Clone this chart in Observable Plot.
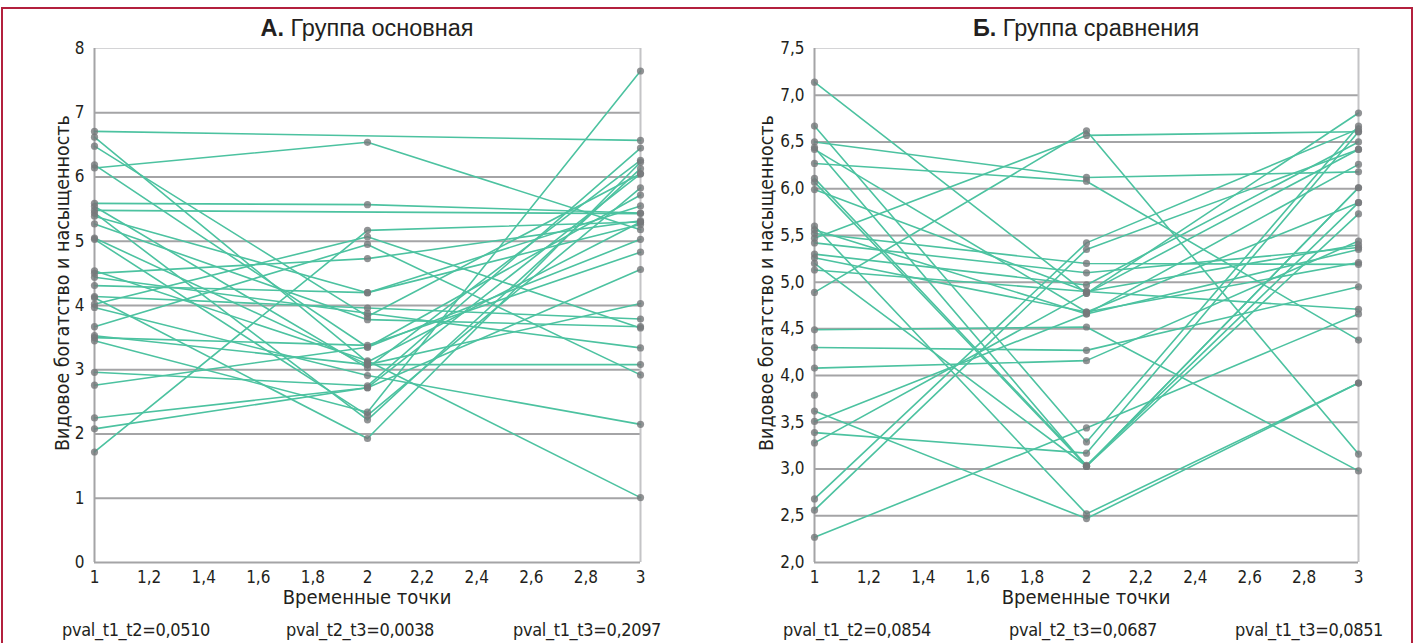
<!DOCTYPE html>
<html>
<head>
<meta charset="utf-8">
<script src="https://cdn.jsdelivr.net/npm/d3@7"></script>
<script src="https://cdn.jsdelivr.net/npm/@observablehq/plot@0.6"></script>
<style>
  body { margin: 0; background: #fff; }
  #page { position: relative; width: 1416px; height: 643px; overflow: hidden; background: #fff;
    font-family: "Liberation Sans Narrow", "DejaVu Sans Condensed", "Roboto", sans-serif; color: #231f20; }
  #frame { position: absolute; left: 1px; top: 7px; width: 1412px; height: 645px; border: 2px solid #b3203e; box-sizing: border-box; }
  .panel { position: absolute; top: 0; }
  .title { position: absolute; top: 15px; font-size: 23.5px; white-space: nowrap; transform: translateX(-50%); font-family: "Liberation Sans", Arial, sans-serif; }
  .title b { font-weight: bold; }
  .xlab { position: absolute; top: 585px; font-size: 20px; white-space: nowrap; transform: translateX(-50%); }
  .ylab { position: absolute; font-size: 19.5px; white-space: nowrap; transform: translate(-50%, -50%) rotate(-90deg); }
  .pval { position: absolute; top: 619px; font-size: 18px; letter-spacing: -0.35px; white-space: nowrap; }
</style>
</head>
<body>
<div id="page">
  <div id="frame"></div>
</div>
<script>
// ---- Data ----
const timePoints = [1, 2, 3];

// Group A ("Группа основная"): values per subject at t1, t2, t3 (null = missing)
const groupA_t1 = [6.71, 6.62, 6.48, 6.19, 6.14, 5.59, 5.54, 5.48, 5.44, 5.39, 5.27, 5.05, 5.03, 4.54, 4.50, 4.44, 4.31, 4.14, 4.12, 4.02, 3.97, 3.67, 3.53, 3.50, 3.45, 2.96, 2.76, 2.25, 2.08, 1.72];
const groupA_t2 = [null, 3.12, 3.83, 3.35, 6.54, 5.57, 3.03, null, 2.22, 4.20, 3.78, 3.08, 2.29, 3.14, 4.73, 3.88, 4.20, 3.96, 1.93, 5.07, 2.91, 4.95, 3.08, 3.38, 2.34, 2.75, 3.35, 2.72, 2.72, 5.17];
const groupA_t3 = [6.57, 5.30, 6.05, 5.72, 5.18, 5.44, 6.26, 5.43, 6.13, 5.26, 3.67, 4.03, 5.83, 1.01, 5.32, 3.34, 5.55, 3.79, 6.23, 3.65, 2.15, 2.92, 3.08, 4.83, 7.65, 6.45, 5.03, 4.56, 6.05, 5.30];

// Group B ("Группа сравнения")
const groupB_t1 = [7.14, 6.67, 6.50, 6.44, 6.42, 6.27, 6.11, 6.07, 5.99, 5.60, 5.56, 5.52, 5.47, 5.42, 5.30, 5.26, 5.20, 5.13, 4.89, 4.49, 4.30, 4.08, 3.79, 3.62, 3.51, 3.39, 3.28, 2.68, 2.56, 2.27];
const groupB_t2 = [4.88, 3.29, 6.12, 3.03, 4.68, 6.08, 3.04, 3.03, 4.90, 2.52, 4.66, 5.20, 6.57, 5.10, 4.97, 4.68, 3.03, 4.90, 6.62, 4.52, 4.27, 4.16, null, 2.47, 4.66, 3.17, 4.88, 5.42, 5.35, 3.44];
const groupB_t3 = [6.42, 6.67, 6.18, 6.01, 5.21, 4.38, 5.85, 5.73, 5.40, 3.92, 6.26, 5.19, 6.61, 5.37, 6.50, 5.85, 6.01, 4.71, 3.16, 2.98, 4.95, 5.44, null, 3.92, 5.35, 6.61, 6.81, 6.64, 6.42, 4.66];

// Axis ticks
const xTicks = [1, 1.2, 1.4, 1.6, 1.8, 2, 2.2, 2.4, 2.6, 2.8, 3];
const yTicksA = [0, 1, 2, 3, 4, 5, 6, 7, 8];
const yTicksB = [2.0, 2.5, 3.0, 3.5, 4.0, 4.5, 5.0, 5.5, 6.0, 6.5, 7.0, 7.5];

// Texts
const titlesBold = ["А.", "Б."];
const titlesText = [" Группа основная", " Группа сравнения"];
const xLabel = "Временные точки";
const yLabel = "Видовое богатство и насыщенность";
const pvalsA = ["pval_t1_t2=0,0510", "pval_t2_t3=0,0038", "pval_t1_t3=0,2097"];
const pvalsB = ["pval_t1_t2=0,0854", "pval_t2_t3=0,0687", "pval_t1_t3=0,0851"];

// ---- Build ----
function rows(t1, t2, t3) {
  const out = [];
  const cols = [t1, t2, t3];
  t1.forEach((_, i) => {
    cols.forEach((c, k) => { if (c[i] != null) out.push({ id: i, t: timePoints[k], v: c[i] }); });
  });
  return out;
}
const comma = (d, dec) => (dec ? d.toFixed(dec) : String(d)).replace(".", ",");

function panel(data, yTicks, yDec, mLeft, mRight) {
  const yMin = yTicks[0], yMax = yTicks[yTicks.length - 1];
  const grid = yTicks.slice(1, -1);
  return Plot.plot({
    width: 708, height: 643,
    marginLeft: mLeft, marginRight: mRight, marginTop: 48, marginBottom: 81,
    x: { domain: [1, 3] },
    y: { domain: [yMin, yMax] },
    style: { fontFamily: '"Liberation Sans Narrow", "DejaVu Sans Condensed", Roboto, sans-serif', fontSize: "17px", color: "#231f20", background: "transparent" },
    marks: [
      Plot.ruleY(grid, { stroke: "#a4a4a6", strokeWidth: 2 }),
      Plot.ruleY([yMax], { stroke: "#d4d4d6", strokeWidth: 1 }),
      Plot.ruleX([3], { stroke: "#c4c4c6", strokeWidth: 2 }),
      Plot.ruleX([1], { stroke: "#a4a4a6", strokeWidth: 2 }),
      Plot.ruleY([yMin], { stroke: "#a4a4a6", strokeWidth: 2 }),
      Plot.axisY({ ticks: yTicks, tickSize: 0, tickPadding: 10, tickFormat: d => comma(d, yDec), label: null, fontSize: 17 }),
      Plot.axisX({ ticks: xTicks, tickSize: 0, tickPadding: 8, tickFormat: d => comma(+d.toFixed(1)), label: null, fontSize: 17 }),
      Plot.line(data, { x: "t", y: "v", z: "id", stroke: "#4cc2a0", strokeWidth: 1.6 }),
      Plot.dot(data, { x: "t", y: "v", r: 3.6, fill: "#76787a", fillOpacity: 0.8, stroke: "none" })
    ]
  });
}

const page = document.getElementById("page");
const defs = [
  { data: rows(groupA_t1, groupA_t2, groupA_t3), yTicks: yTicksA, dec: 0, left: 0, mL: 94, mR: 68, pv: pvalsA, pvx: [62, 286, 513], cx: 367, ylx: 62 },
  { data: rows(groupB_t1, groupB_t2, groupB_t3), yTicks: yTicksB, dec: 1, left: 708, mL: 106, mR: 58, pv: pvalsB, pvx: [783, 1009, 1235], cx: 1086, ylx: 766 }
];
defs.forEach((d, i) => {
  const svg = panel(d.data, d.yTicks, d.dec, d.mL, d.mR);
  const wrap = document.createElement("div");
  wrap.className = "panel";
  wrap.style.left = d.left + "px";
  wrap.appendChild(svg);
  page.appendChild(wrap);

  const t = document.createElement("div");
  t.className = "title"; t.style.left = d.cx + "px";
  t.innerHTML = "<b>" + titlesBold[i] + "</b>" + titlesText[i];
  page.appendChild(t);

  const xl = document.createElement("div");
  xl.className = "xlab"; xl.style.left = d.cx + "px"; xl.textContent = xLabel;
  page.appendChild(xl);

  const yl = document.createElement("div");
  yl.className = "ylab"; yl.style.left = d.ylx + "px"; yl.style.top = "283px"; yl.textContent = yLabel;
  page.appendChild(yl);

  d.pv.forEach((p, k) => {
    const e = document.createElement("div");
    e.className = "pval"; e.style.left = d.pvx[k] + "px"; e.textContent = p;
    page.appendChild(e);
  });
});
</script>
</body>
</html>
